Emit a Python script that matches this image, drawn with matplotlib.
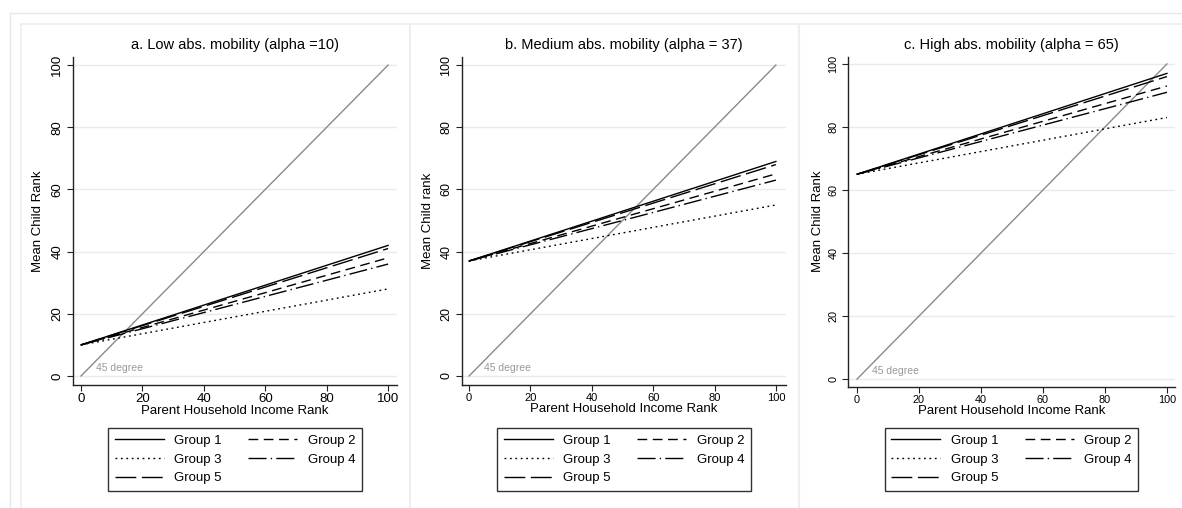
import matplotlib
matplotlib.use("Agg")
import matplotlib.pyplot as plt
from matplotlib.lines import Line2D

plt.rcParams['font.family'] = ['Liberation Sans', 'DejaVu Sans']

# ---------------- data ----------------
parent_rank = [0, 100]
groups = ["Group 1", "Group 2", "Group 3", "Group 4", "Group 5"]
titles = ["a. Low abs. mobility (alpha =10)",
          "b. Medium abs. mobility (alpha = 37)",
          "c. High abs. mobility (alpha = 65)"]
ylabels = ["Mean Child Rank", "Mean Child rank", "Mean Child Rank"]
xlabel = "Parent Household Income Rank"
# child rank at parent rank 0 and 100, per group (G1..G5)
panel_a_start = [10, 10, 10, 10, 10]
panel_a_end = [42, 38, 28, 36, 41]
panel_b_start = [37, 37, 37, 37, 37]
panel_b_end = [69, 65, 55, 63, 68]
panel_c_start = [65, 65, 65, 65, 65]
panel_c_end = [97, 93, 83, 91, 96]
diag_x = [0, 100]
diag_y = [0, 100]
ticks = [0, 20, 40, 60, 80, 100]
tick_labels = ["0", "20", "40", "60", "80", "100"]
# --------------------------------------

W, H = 1182, 508
fig = plt.figure(figsize=(W / 100, H / 100), dpi=100)
fig.patch.set_facecolor("white")

styles = [dict(ls="-"),
          dict(ls=(0, (7, 4))),
          dict(ls=(0, (1.3, 2.6))),
          dict(ls=(0, (13, 3, 1, 3))),
          dict(ls=(0, (15, 4)))]

# axes boxes in pixels: left, right, top, bottom ; xlim ; ylim
panels = [
    dict(box=(73, 397, 57, 385), xlim=(-2.6, 102.9), ylim=(-2.9, 102.6),
         start=panel_a_start, end=panel_a_end, xfs=9.5, yfs=9.5, ylx=38),
    dict(box=(462, 786, 57, 385), xlim=(-2.3, 103.3), ylim=(-2.9, 102.6),
         start=panel_b_start, end=panel_b_end, xfs=8.0, yfs=9.0, ylx=428),
    dict(box=(848, 1175, 57, 387), xlim=(-2.9, 102.6), ylim=(-2.5, 102.2),
         start=panel_c_start, end=panel_c_end, xfs=7.8, yfs=7.8, ylx=818),
]

# background frame lines (graph combine look)
def fline(x0, y0, x1, y1, color, lw=1.0):
    fig.add_artist(Line2D([x0 / W, x1 / W], [1 - y0 / H, 1 - y1 / H],
                          transform=fig.transFigure, color=color, lw=lw))

fline(10, 13, W, 13, "#e2eaea")
fline(10, 13, 10, H, "#e2eaea")
fline(21, 24, W, 24, "#eeeeee", 1.2)
fline(21, 24, 21, H, "#eeeeee", 1.2)
fline(410, 24, 410, H, "#eeeeee", 1.6)
fline(799, 24, 799, H, "#eeeeee", 1.6)

for i, p in enumerate(panels):
    l, r, t, b = p["box"]
    ax = fig.add_axes([l / W, 1 - b / H, (r - l) / W, (b - t) / H])
    ax.set_facecolor("white")
    ax.set_xlim(*p["xlim"])
    ax.set_ylim(*p["ylim"])
    for yv in ticks:
        ax.axhline(yv, color="#eaeaea", lw=1.0, zorder=0)
    ax.plot(diag_x, diag_y, color="#8a8a8a", lw=1.0, zorder=2)
    ax.text(5, 1.5, "45 degree", color="#999999", fontsize=7.5, zorder=3)
    handles = []
    for g in range(len(groups)):
        h, = ax.plot(parent_rank, [p["start"][g], p["end"][g]], color="black",
                     lw=1.0, label=groups[g], zorder=4, **styles[g])
        handles.append(h)
    for s in ["top", "right"]:
        ax.spines[s].set_visible(False)
    for s in ["left", "bottom"]:
        ax.spines[s].set_color("#222222")
        ax.spines[s].set_linewidth(1.0)
    ax.set_xticks(ticks)
    ax.set_xticklabels(tick_labels, fontsize=p["xfs"])
    ax.set_yticks(ticks)
    ax.set_yticklabels(tick_labels, fontsize=p["yfs"], rotation=90, va="center")
    ax.tick_params(axis="x", length=4, width=0.8, pad=1.5, color="#222222")
    ax.tick_params(axis="y", length=4, width=0.8, pad=3, color="#222222")
    ax.set_xlabel(xlabel, fontsize=9.5, labelpad=0)
    cx = (l + r) / 2
    fig.text(cx / W, 1 - 45 / H, titles[i], ha="center", va="center", fontsize=10.5)
    fig.text(p["ylx"] / W, 1 - 221 / H, ylabels[i], ha="center", va="center",
             rotation=90, fontsize=9.5)
    order = [0, 2, 4, 1, 3]
    leg = ax.legend([handles[k] for k in order], [groups[k] for k in order],
                    ncol=2, loc="upper center",
                    bbox_to_anchor=(cx / W, 1 - 428 / H),
                    bbox_transform=fig.transFigure, fontsize=9.5,
                    frameon=True, fancybox=False, handlelength=3.7,
                    handletextpad=0.8, columnspacing=2.0, labelspacing=0.5,
                    borderpad=0.5, borderaxespad=0)
    fr = leg.get_frame()
    fr.set_edgecolor("black")
    fr.set_linewidth(1.0)

fig.savefig("out.png", dpi=100, facecolor="white")
